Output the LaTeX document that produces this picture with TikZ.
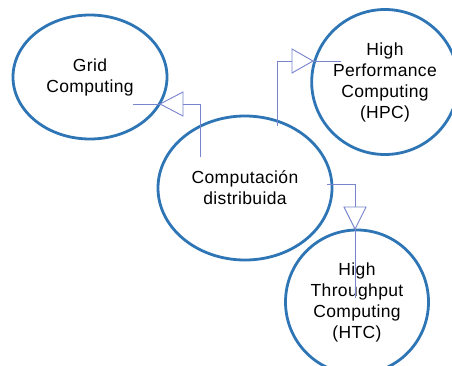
\documentclass[tikz,border=0pt]{standalone}
\usepackage{fontspec}
\setmainfont{Liberation Sans}[LetterSpace=2]
\usetikzlibrary{shapes.geometric,calc}
\definecolor{ellblue}{RGB}{46,117,182}
\definecolor{connblue}{RGB}{120,132,205}
\tikzset{
  bubble/.style={ellipse, draw=ellblue, line width=2.8pt, inner sep=0pt, align=center,
    font=\fontsize{17.5pt}{21pt}\selectfont},
  conn/.style={draw=connblue, line width=0.9pt},
}
\begin{document}
\begin{tikzpicture}[x=1pt,y=-1pt]
\useasboundingbox (0,0) rectangle (452,365);
% ellipses
\node[bubble, minimum width=154pt, minimum height=124pt] (grid) at (90,77) {Grid\\Computing};
\node[bubble, minimum width=174pt, minimum height=144pt] (cd) at (245,188) {Computación\\distribuida};
\node[bubble, minimum width=144pt, minimum height=145pt] (hpc) at (385,82) {High\\Performance\\Computing\\(HPC)};
\node[bubble, minimum width=143pt, minimum height=144pt] (htc) at (357,302) {High\\Throughput\\Computing\\(HTC)};
% connector to Grid
\coordinate (g0) at ($(cd.center)+(-45,-31)$);
\coordinate (gb) at (183,104);
\coordinate (gt) at (160,104);
\coordinate (ge) at (133,104);
\draw[conn] (g0) |- (gb);
\draw[conn] ($(gb)+(0,-12)$) -- (gt) -- ($(gb)+(0,12)$) -- cycle;
\draw[conn] (gt) -- (ge);
% connector to HPC
\coordinate (p0) at ($(cd.center)+(32,-62)$);
\coordinate (pb) at (292,61);
\coordinate (pt) at (313,61);
\coordinate (pe) at (341,61);
\draw[conn] (p0) |- (pb);
\draw[conn] ($(pb)+(0,-12)$) -- (pt) -- ($(pb)+(0,12)$) -- cycle;
\draw[conn] (pt) -- (pe);
% connector to HTC
\coordinate (t0) at (327,184);
\coordinate (tb) at (355,207);
\coordinate (tt) at (355,229);
\coordinate (te) at (355,298);
\draw[conn] (t0) -| (tb);
\draw[conn] ($(tb)+(-11,0)$) -- (tt) -- ($(tb)+(11,0)$) -- cycle;
\draw[conn] (tt) -- (te);
\end{tikzpicture}
\end{document}
